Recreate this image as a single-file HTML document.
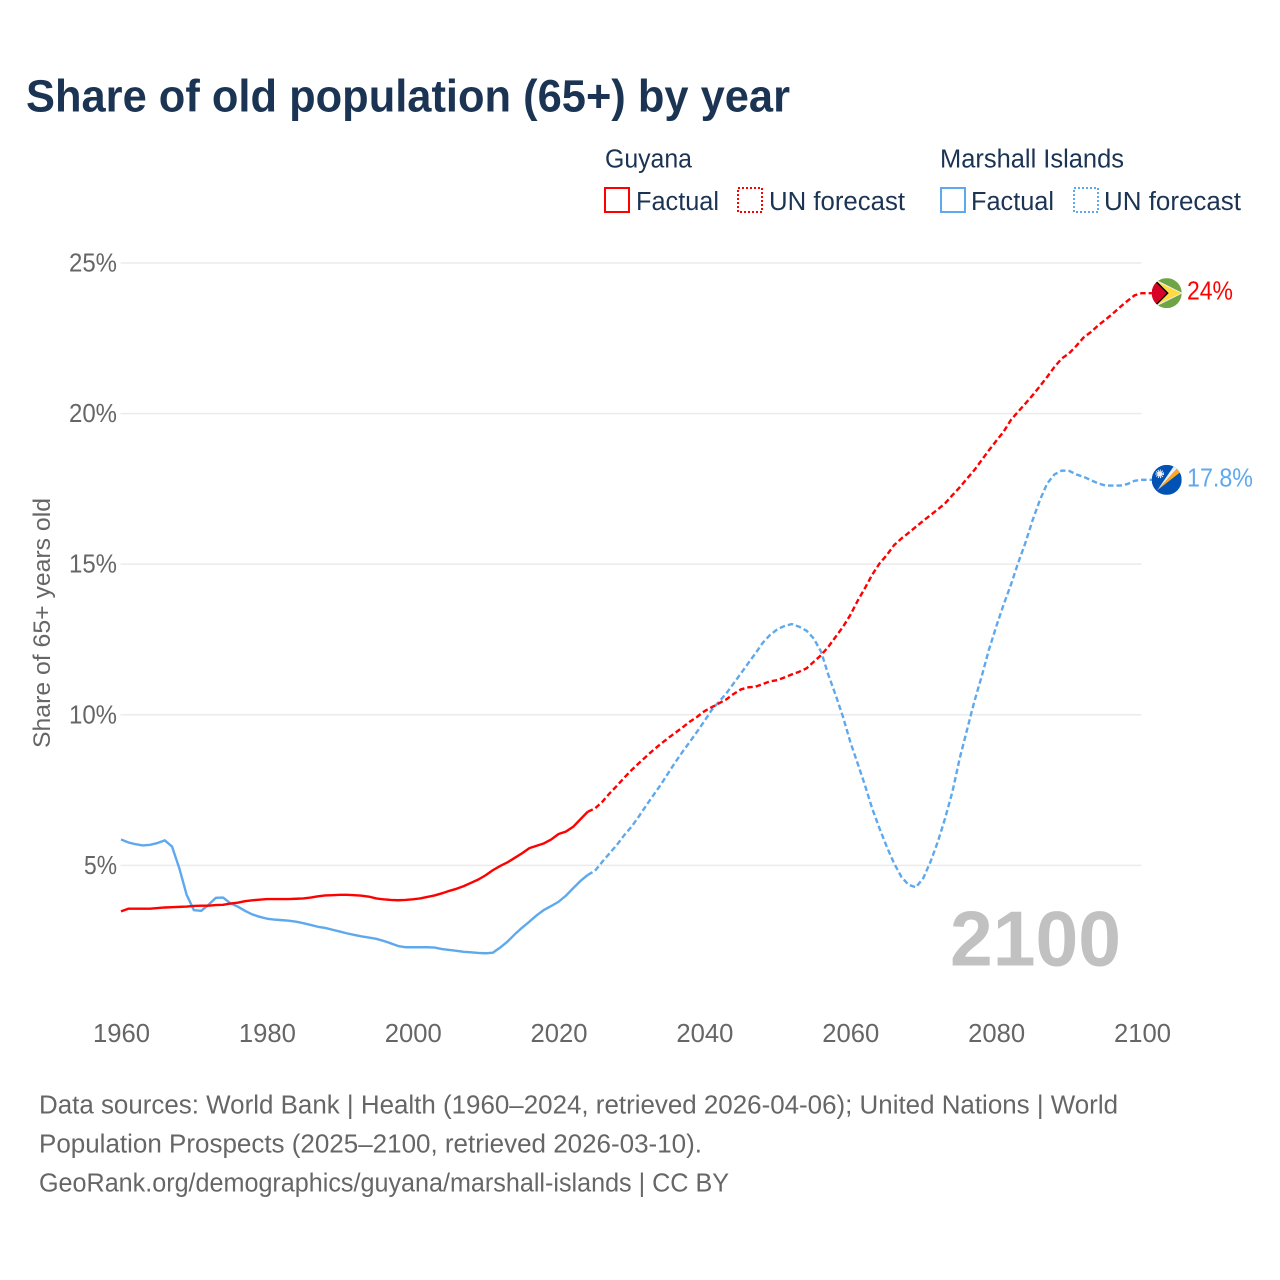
<!DOCTYPE html>
<html lang="en">
<head>
<meta charset="utf-8">
<title>Share of old population (65+) by year</title>
<style>
html,body{margin:0;padding:0;background:#fff;width:1280px;height:1280px;overflow:hidden}
svg{display:block;font-family:"Liberation Sans",sans-serif}
.navy{fill:#1b3454}
.grey{fill:#666}
</style>
</head>
<body>
<svg id="chart" width="1280" height="1280" viewBox="0 0 1280 1280" xmlns="http://www.w3.org/2000/svg">
  <defs>
    <clipPath id="flag-clip"><circle cx="0" cy="0" r="15"></circle></clipPath>
  </defs>
  <rect width="1280" height="1280" fill="#fff"></rect>
  <text class="navy" x="26" y="111.5" font-size="45" font-weight="700" textLength="764" lengthAdjust="spacingAndGlyphs">Share of old population (65+) by year</text>

  <g font-size="25.5">
    <text class="navy" x="605" y="167.5" textLength="87" lengthAdjust="spacingAndGlyphs">Guyana</text>
    <rect x="605" y="188" width="24" height="24" fill="none" stroke="#ff0000" stroke-width="2"></rect>
    <text class="navy" x="636" y="210" textLength="83" lengthAdjust="spacingAndGlyphs">Factual</text>
    <rect x="738" y="188" width="24" height="24" fill="none" stroke="#ff0000" stroke-width="2" stroke-dasharray="2 2"></rect>
    <text class="navy" x="769" y="210" textLength="136" lengthAdjust="spacingAndGlyphs">UN forecast</text>
    <text class="navy" x="940" y="167.5" textLength="184" lengthAdjust="spacingAndGlyphs">Marshall Islands</text>
    <rect x="941" y="188" width="24" height="24" fill="none" stroke="#5ea9ee" stroke-width="2"></rect>
    <text class="navy" x="971" y="210" textLength="83" lengthAdjust="spacingAndGlyphs">Factual</text>
    <rect x="1074" y="188" width="24" height="24" fill="none" stroke="#5ea9ee" stroke-width="2" stroke-dasharray="2 2"></rect>
    <text class="navy" x="1104" y="210" textLength="137" lengthAdjust="spacingAndGlyphs">UN forecast</text>
  </g>

  <g id="grid"></g>
  <g id="y-axis"></g>
  <g id="x-axis"></g>
  <text class="grey" font-size="24.5" transform="translate(50,748) rotate(-90)" textLength="250" lengthAdjust="spacingAndGlyphs">Share of 65+ years old</text>
  <text x="950" y="965.5" font-size="78" font-weight="700" fill="#c1c1c1" textLength="171" lengthAdjust="spacingAndGlyphs">2100</text>

  <g id="series"></g>

  <g id="flag-guyana">
    <g clip-path="url(#flag-clip)">
      <rect x="-15" y="-15" width="30" height="30" fill="#6da544"></rect>
      <polygon points="-14,-15 16,0 -14,15" fill="#f0f0f0"></polygon>
      <polygon points="-14,-13.5 14.5,0 -14,13.5" fill="#ffda44"></polygon>
      <polygon points="-11,-13 2,0 -11,13" fill="#000"></polygon>
      <polygon points="-15,-15 -12,-12 0,0 -12,12 -15,15" fill="#d80027"></polygon>
    </g>
  </g>
  <g id="flag-marshall">
    <g clip-path="url(#flag-clip)">
      <rect x="-15" y="-15" width="30" height="30" fill="#0052b4"></rect>
      <polygon points="-9.5,10.5 8,-15 11,-12" fill="#f0f0f0"></polygon>
      <polygon points="-9.5,10.5 11,-12 14,-8" fill="#ffa726"></polygon>
      <circle cx="-7" cy="-6" r="2.6" fill="#f0f0f0"></circle>
      <circle cx="-7" cy="-6" r="3.4" fill="none" stroke="#f0f0f0" stroke-width="2" stroke-dasharray="1 1"></circle>
    </g>
  </g>
  <text id="label-guyana" x="1187" font-size="25.5" fill="#ff0000" textLength="46" lengthAdjust="spacingAndGlyphs"></text>
  <text id="label-marshall" x="1187" font-size="25.5" fill="#5ea9ee" textLength="66" lengthAdjust="spacingAndGlyphs"></text>

  <g class="grey" font-size="25.5">
    <text class="grey" x="39" y="1113.5" textLength="1079" lengthAdjust="spacingAndGlyphs">Data sources: World Bank | Health (1960–2024, retrieved 2026-04-06); United Nations | World</text>
    <text class="grey" x="39" y="1152.5" textLength="663" lengthAdjust="spacingAndGlyphs">Population Prospects (2025–2100, retrieved 2026-03-10).</text>
    <text class="grey" x="39" y="1191.5" textLength="690" lengthAdjust="spacingAndGlyphs">GeoRank.org/demographics/guyana/marshall-islands | CC BY</text>
  </g>
</svg>
<script>
const xTicks = [1960, 1980, 2000, 2020, 2040, 2060, 2080, 2100];
const yTicks = [5, 10, 15, 20, 25];
const factualStartYear = 1960;
const forecastStartYear = 2024;

const guyanaFactual = [3.47,3.56,3.56,3.56,3.56,3.58,3.6,3.61,3.62,3.63,3.65,3.66,3.66,3.68,3.69,3.73,3.76,3.81,3.84,3.86,3.88,3.88,3.88,3.88,3.89,3.9,3.93,3.97,4.0,4.01,4.02,4.02,4.01,3.99,3.96,3.9,3.87,3.85,3.84,3.85,3.87,3.9,3.95,4.0,4.07,4.15,4.22,4.31,4.42,4.53,4.67,4.84,4.98,5.1,5.25,5.4,5.57,5.65,5.73,5.86,6.04,6.12,6.28,6.53,6.78];
const guyanaForecast = [6.78,6.89,7.11,7.39,7.64,7.91,8.16,8.39,8.61,8.83,9.03,9.22,9.4,9.58,9.77,9.93,10.12,10.25,10.38,10.51,10.69,10.84,10.91,10.93,11.02,11.11,11.15,11.24,11.34,11.43,11.54,11.76,11.98,12.26,12.59,12.92,13.31,13.78,14.2,14.65,15.02,15.3,15.63,15.85,16.04,16.24,16.44,16.63,16.82,17.02,17.29,17.55,17.84,18.12,18.45,18.78,19.09,19.39,19.78,20.06,20.33,20.61,20.91,21.22,21.55,21.83,22.0,22.25,22.53,22.71,22.93,23.12,23.32,23.54,23.74,23.93,24.0];
const marshallFactual = [5.86,5.76,5.7,5.66,5.68,5.74,5.83,5.62,4.9,4.02,3.51,3.49,3.69,3.92,3.93,3.74,3.63,3.49,3.37,3.29,3.23,3.2,3.18,3.16,3.13,3.08,3.02,2.96,2.92,2.86,2.8,2.74,2.69,2.64,2.6,2.56,2.49,2.41,2.32,2.28,2.28,2.28,2.28,2.27,2.22,2.19,2.16,2.13,2.11,2.09,2.08,2.1,2.27,2.47,2.71,2.93,3.13,3.34,3.52,3.65,3.79,3.99,4.24,4.48,4.68];
const marshallForecast = [4.68,4.82,5.12,5.4,5.68,6.0,6.28,6.62,6.98,7.33,7.67,8.05,8.42,8.77,9.1,9.44,9.79,10.16,10.43,10.71,11.04,11.37,11.71,12.04,12.39,12.65,12.84,12.95,13.01,12.92,12.79,12.53,12.09,11.32,10.65,9.93,9.1,8.39,7.67,6.89,6.23,5.62,5.07,4.62,4.35,4.27,4.57,5.12,5.78,6.56,7.44,8.55,9.49,10.43,11.26,12.15,12.92,13.64,14.3,15.03,15.7,16.46,17.13,17.68,17.98,18.11,18.1,17.98,17.9,17.79,17.68,17.61,17.61,17.61,17.66,17.77,17.8];

const SVGNS = 'http://www.w3.org/2000/svg';
const xOf = year => 121 + (year - 1960) * (1142 - 121) / 140;
const yOf = value => 1015.9 - value * 30.115;
const flagX = 1166.7;

function make(tag, parent, attrs, text) {
  const el = document.createElementNS(SVGNS, tag);
  for (const k in attrs) el.setAttribute(k, attrs[k]);
  if (text !== undefined) el.textContent = text;
  parent.appendChild(el);
  return el;
}

const gridGroup = document.getElementById('grid');
const yAxisGroup = document.getElementById('y-axis');
const xAxisGroup = document.getElementById('x-axis');
const seriesGroup = document.getElementById('series');

yTicks.forEach(function (t) {
  const line = make('line', gridGroup, { x1: 120.5, x2: 1141.5, y1: yOf(t), y2: yOf(t), stroke: '#ebebeb', 'stroke-width': 1.5 });
  
  
  const s = t + '%';
  const label = make('text', yAxisGroup, { x: 117, y: yOf(t) + 8.5, 'text-anchor': 'end', 'font-size': 25.5, fill: '#666', textLength: 15 * s.length + 3, lengthAdjust: 'spacingAndGlyphs' }, s);
  
  
});

xTicks.forEach(function (t) {
  const label = make('text', xAxisGroup, { x: xOf(t) + 0.5, y: 1042, 'text-anchor': 'middle', 'font-size': 25.5, fill: '#666', textLength: 57, lengthAdjust: 'spacingAndGlyphs' }, String(t));
  
  
});

function pathFrom(values, startYear, extendToFlag) {
  const pts = values.map(function (v, i) { return xOf(startYear + i).toFixed(2) + ',' + yOf(v).toFixed(2); });
  if (extendToFlag) pts.push(flagX + ',' + yOf(values[values.length - 1]).toFixed(2));
  return 'M' + pts.join('L');
}

function drawLine(values, startYear, color, dashed, name) {
  const attrs = { d: pathFrom(values, startYear, dashed), fill: 'none', stroke: color, 'stroke-width': 2.4, 'stroke-linejoin': 'round' };
  if (dashed) attrs['stroke-dasharray'] = '5.5 3';
  const p = make('path', seriesGroup, attrs);
  
  
}

drawLine(marshallFactual, factualStartYear, '#5ea9ee', false, 'marshall-islands-factual-line');
drawLine(marshallForecast, forecastStartYear, '#5ea9ee', true, 'marshall-islands-forecast-line');
drawLine(guyanaFactual, factualStartYear, '#ff0000', false, 'guyana-factual-line');
drawLine(guyanaForecast, forecastStartYear, '#ff0000', true, 'guyana-forecast-line');

function placeEnd(flagId, labelId, values) {
  const last = values[values.length - 1];
  const y = yOf(last);
  document.getElementById(flagId).setAttribute('transform', 'translate(' + flagX + ',' + y + ')');
  const lab = document.getElementById(labelId);
  lab.setAttribute('y', y + 6.5);
  lab.textContent = last.toFixed(1).replace(/\.0$/, '') + '%';
}
placeEnd('flag-guyana', 'label-guyana', guyanaForecast);
placeEnd('flag-marshall', 'label-marshall', marshallForecast);
</script>
</body>
</html>
